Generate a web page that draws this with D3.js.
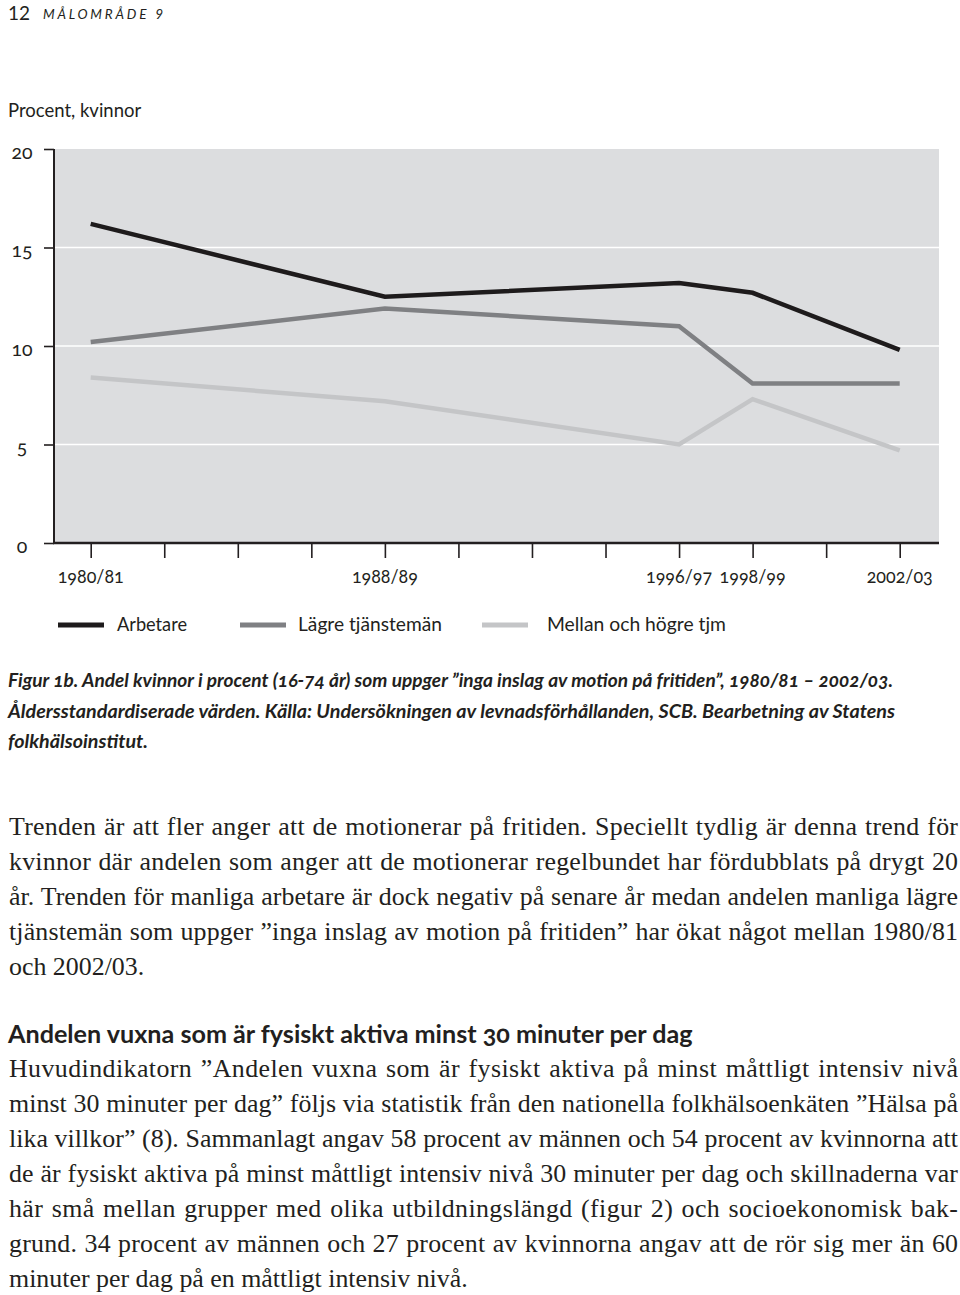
<!DOCTYPE html>
<html>
<head>
<meta charset="utf-8">
<script src="https://cdn.jsdelivr.net/npm/d3@7"></script>
<style>
  body { margin: 0; background: #fff; }
  svg { display: block; }
  .onum { font-feature-settings: "onum" 1; font-variant-numeric: oldstyle-nums; }
</style>
</head>
<body>
<div id="page"></div>
<script>
// data
var periods   = ["1980/81", "1988/89", "1996/97", "1998/99", "2002/03"];
var startYear = [1980, 1988, 1996, 1998, 2002];
var arbetare  = [16.2, 12.5, 13.2, 12.7, 9.8];
var lagre     = [10.2, 11.9, 11.0, 8.1, 8.1];
var mellan    = [8.4, 7.2, 5.0, 7.3, 4.7];
var seriesNames = ["Arbetare", "Lägre tjänstemän", "Mellan och högre tjm"];
var yTicks = [0, 5, 10, 15, 20];

var caption = [
  "Figur 1b. Andel kvinnor i procent (16-74 år) som uppger ”inga inslag av motion på fritiden”, 1980/81 – 2002/03.",
  "Åldersstandardiserade värden. Källa: Undersökningen av levnadsförhållanden, SCB. Bearbetning av Statens",
  "folkhälsoinstitut."
];
var para1 = [
  "Trenden är att fler anger att de motionerar på fritiden. Speciellt tydlig är denna trend för",
  "kvinnor där andelen som anger att de motionerar regelbundet har fördubblats på drygt 20",
  "år. Trenden för manliga arbetare är dock negativ på senare år medan andelen manliga lägre",
  "tjänstemän som uppger ”inga inslag av motion på fritiden” har ökat något mellan 1980/81",
  "och 2002/03."
];
var heading = "Andelen vuxna som är fysiskt aktiva minst 30 minuter per dag";
var para2 = [
  "Huvudindikatorn ”Andelen vuxna som är fysiskt aktiva på minst måttligt intensiv nivå",
  "minst 30 minuter per dag” följs via statistik från den nationella folkhälsoenkäten ”Hälsa på",
  "lika villkor” (8). Sammanlagt angav 58 procent av männen och 54 procent av kvinnorna att",
  "de är fysiskt aktiva på minst måttligt intensiv nivå 30 minuter per dag och skillnaderna var",
  "här små mellan grupper med olika utbildningslängd (figur 2) och socioekonomisk bak-",
  "grund. 34 procent av männen och 27 procent av kvinnorna angav att de rör sig mer än 60",
  "minuter per dag på en måttligt intensiv nivå."
];

var width = 960, height = 1295;
var sans = "Lato, 'Open Sans', sans-serif";
var serif = "'Liberation Serif', 'DejaVu Serif', serif";

var svg = d3.select("#page").append("svg")
    .attr("width", width)
    .attr("height", height);

// page header
svg.append("text")
    .attr("x", 8).attr("y", 19.5)
    .style("font-family", sans).style("font-size", "19px").attr("fill", "#231f20")
    .text("12");
svg.append("text")
    .attr("x", 43).attr("y", 19)
    .style("font-family", sans).style("font-size", "13.5px").style("font-style", "italic")
    .style("letter-spacing", "2.8px").attr("fill", "#231f20")
    .text("MÅLOMRÅDE 9");

svg.append("text")
    .attr("x", 8).attr("y", 117)
    .style("font-family", sans).style("font-size", "18.5px").attr("fill", "#231f20")
    .text("Procent, kvinnor");

// chart
var left = 54, right = 939;
var x = d3.scaleLinear().domain([1980, 2002]).range([90.7, 899.7]);
var y = d3.scaleLinear().domain([0, 20]).range([543, 149]);

svg.append("rect")
    .attr("x", left).attr("y", y(20))
    .attr("width", right - left).attr("height", y(0) - y(20))
    .attr("fill", "#dcdddf");

svg.append("g")
    .selectAll("line")
    .data(yTicks.filter(function (d) { return d > 0 && d < 20; }))
    .enter().append("line")
    .attr("x1", left).attr("x2", right)
    .attr("y1", function (d) { return y(d); })
    .attr("y2", function (d) { return y(d); })
    .attr("stroke", "#fff").attr("stroke-width", 1.5);

var series = [
  { name: seriesNames[0], values: arbetare, color: "#1e1b1c" },
  { name: seriesNames[1], values: lagre,    color: "#7f8083" },
  { name: seriesNames[2], values: mellan,   color: "#c4c5c7" }
];

var line = d3.line()
    .x(function (d, i) { return x(startYear[i]); })
    .y(function (d) { return y(d); });

svg.append("g")
    .selectAll("path")
    .data(series.slice().reverse())
    .enter().append("path")
    .attr("d", function (d) { return line(d.values); })
    .attr("fill", "none")
    .attr("stroke", function (d) { return d.color; })
    .attr("stroke-width", 4.5)
    .attr("stroke-linejoin", "miter");

// y axis
var yAxis = d3.axisLeft(y).tickValues(yTicks).tickSize(10).tickFormat("");
var gy = svg.append("g").attr("transform", "translate(" + left + ",0)").call(yAxis);
gy.select(".domain").attr("d", "M0," + y(20) + "V" + (y(0) + 1)).attr("stroke", "#231f20").attr("stroke-width", 2);
gy.selectAll(".tick line").attr("stroke", "#231f20").attr("stroke-width", 1.6);

svg.append("g")
    .selectAll("text")
    .data(yTicks)
    .enter().append("text")
    .attr("class", "onum")
    .attr("x", 22)
    .attr("y", function (d) { return y(d) + 9.5; })
    .attr("text-anchor", "middle")
    .style("font-family", sans).style("font-size", "19.5px").attr("fill", "#231f20")
    .text(function (d) { return d; });

// x axis
var xAxis = d3.axisBottom(x).tickValues(d3.range(1980, 2003, 2)).tickSize(15).tickFormat("");
var gx = svg.append("g").attr("transform", "translate(0," + y(0) + ")").call(xAxis);
gx.select(".domain").attr("d", "M" + (left - 1) + ",0H" + right).attr("stroke", "#231f20").attr("stroke-width", 2.5);
gx.selectAll(".tick line").attr("stroke", "#231f20").attr("stroke-width", 1.6);

svg.append("g")
    .selectAll("text")
    .data(periods)
    .enter().append("text")
    .attr("class", "onum")
    .attr("x", function (d, i) { return x(startYear[i]); })
    .attr("y", 583)
    .attr("text-anchor", "middle")
    .attr("textLength", 66)
    .attr("lengthAdjust", "spacingAndGlyphs")
    .style("font-family", sans).style("font-size", "19.5px").attr("fill", "#231f20")
    .text(function (d) { return d; });

// legend
var legendX = [58, 240, 482];
var legendTextX = [117, 298, 547];
var legendTextW = [70, 144, 179];
var lg = svg.append("g").selectAll("g").data(series).enter().append("g");
lg.append("line")
    .attr("x1", function (d, i) { return legendX[i]; })
    .attr("x2", function (d, i) { return legendX[i] + 46; })
    .attr("y1", 625).attr("y2", 625)
    .attr("stroke", function (d) { return d.color; })
    .attr("stroke-width", 5);
lg.append("text")
    .attr("x", function (d, i) { return legendTextX[i]; })
    .attr("y", 631)
    .attr("textLength", function (d, i) { return legendTextW[i]; })
    .attr("lengthAdjust", "spacingAndGlyphs")
    .style("font-family", sans).style("font-size", "19px").attr("fill", "#231f20")
    .text(function (d) { return d.name; });

// caption
var capW = [885, 887, 140];
svg.append("g")
    .selectAll("text")
    .data(caption)
    .enter().append("text")
    .attr("class", "onum")
    .attr("x", 8)
    .attr("y", function (d, i) { return 687 + i * 30.5; })
    .attr("textLength", function (d, i) { return capW[i]; })
    .attr("lengthAdjust", "spacingAndGlyphs")
    .style("font-family", sans).style("font-size", "18px")
    .style("font-style", "italic").style("font-weight", 700).attr("fill", "#231f20")
    .text(function (d) { return d; });

// body text, justified by spreading letters a little
function block(lines, y0, fitLine, fitWidth) {
  var g = svg.append("g");
  var probe = g.append("text").style("font-family", serif).style("font-size", "22px").text(fitLine);
  var fs = 22 * fitWidth / probe.node().getComputedTextLength();
  probe.remove();
  lines.forEach(function (t, i) {
    var el = g.append("text")
        .attr("x", 9).attr("y", y0 + i * 35)
        .style("font-family", serif).style("font-size", fs + "px").attr("fill", "#231f20")
        .text(t);
    if (i < lines.length - 1) {
      var w = el.node().getComputedTextLength();
      var gaps = t.split(" ").length - 1;
      var extra = 949 - w;
      var wordPart = Math.min(extra * 0.35, gaps * 2);
      el.style("word-spacing", (wordPart / gaps) + "px")
        .style("letter-spacing", ((extra - wordPart) / (t.length - 1)) + "px");
    }
  });
}
block(para1, 835, para2[6], 459);

var hd = svg.append("text")
    .attr("class", "onum")
    .attr("x", 8).attr("y", 1043)
    .style("font-family", sans).style("font-size", "23px").style("font-weight", 700).attr("fill", "#231f20")
    .text(heading);
hd.style("font-size", (23 * 685 / hd.node().getComputedTextLength()) + "px");

block(para2, 1077, para2[6], 459);
</script>
</body>
</html>
